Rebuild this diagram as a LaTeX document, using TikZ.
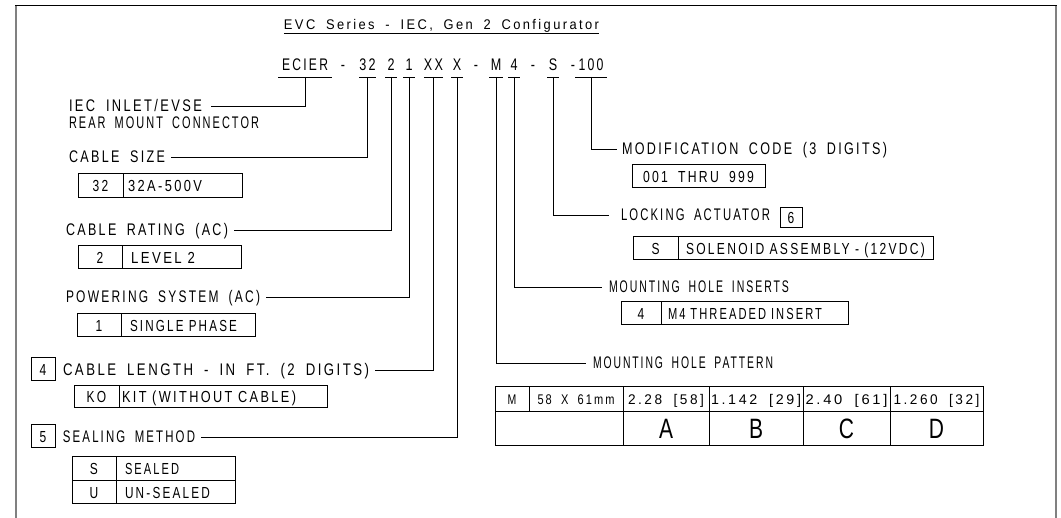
\documentclass[tikz,border=0pt]{standalone}
\usepackage{fontspec}
\usepackage{graphicx}
\newfontfamily\cadfont[FakeStretch=0.75,LetterSpace=14,WordSpace=1.8]{Liberation Sans}
\newcommand\fw[2]{\resizebox{#1}{\height}{#2}}
\begin{document}
\begin{tikzpicture}[x=1pt,y=-1pt,
 lab/.style={font=\cadfont\fontsize{16.8}{18}\selectfont, inner sep=0pt, outer sep=0pt, text height=12pt, text depth=0pt},
 lbl/.style={lab, anchor=west, outer xsep=6pt},
 lblr/.style={lab, anchor=west, outer xsep=#1},
 code/.style={lab, anchor=base, inner xsep=0pt, inner ysep=6pt},
 boxfont/.style={font=\cadfont\fontsize{16}{18}\selectfont, text height=11.5pt},
 cellc/.style={lab, boxfont, draw, line width=1pt, anchor=north west},
 celll/.style={lab, boxfont, draw, line width=1pt, anchor=north west, align=left},
 small/.style={font=\cadfont\fontsize{14}{16}\selectfont, text height=10pt},
 big/.style={font=\cadfont\fontsize{28}{30}\selectfont, text height=20pt},
 lead/.style={line width=0.9pt},
 frame/.style={line width=1.6pt, draw=black!50},
]
\useasboundingbox (0,0) rectangle (1061,518);
% frame
\draw[line width=1pt] (15,6) -- (1057,6);
\draw[frame] (16,6) -- (16,518);
\draw[frame] (1056,6) -- (1056,518);

% title
\node[font=\cadfont\fontsize{14}{16}\selectfont, inner xsep=0pt, inner ysep=3pt, outer sep=0pt, text height=10pt, text depth=0pt, anchor=base] (title) at (441.5,30) {\fw{315pt}{EVC Series - IEC, Gen 2 Configurator}};
\draw[lead] (title.south west) -- (title.south east);

% code line
\node[code, minimum width=54pt] (gE) at (305,71) {\fw{46pt}{ECIER}};
\node[lab, anchor=base] (d1) at (343,71) {-};
\node[code, minimum width=15pt] (g32) at (367.5,71) {32};
\node[code, minimum width=12pt] (g2) at (391,71) {2};
\node[code, minimum width=12pt] (g1) at (409,71) {1};
\node[code, minimum width=17pt] (gXX) at (433.5,71) {XX};
\node[code, minimum width=12pt] (gX) at (457,71) {X};
\node[lab, anchor=base] (d2) at (476,71) {-};
\node[code, minimum width=14pt] (gM) at (496,71) {M};
\node[code, minimum width=12pt] (g4) at (514,71) {4};
\node[lab, anchor=base] (d3) at (533,71) {-};
\node[code, minimum width=12pt] (gS) at (553,71) {S};
\node[lab, anchor=base] (d4) at (573,71) {-};
\node[code, minimum width=32pt] (g100) at (591,71) {\fw{25pt}{100}};
\foreach \n in {gE,g32,g2,g1,gXX,gX,gM,g4,gS,g100}
  \draw[lead] (\n.south west) -- (\n.south east);

% left labels
\node[lbl, outer xsep=9pt] (lIEC) at (60,106) {\fw{133pt}{IEC INLET/EVSE}};
\node[lbl] (lREAR) at (63,123) {\fw{190pt}{REAR MOUNT CONNECTOR}};
\node[lbl] (lSize) at (63,157) {\fw{96pt}{CABLE SIZE}};
\node[lbl] (lRate) at (60,230) {\fw{162pt}{CABLE RATING (AC)}};
\node[lbl] (lPow) at (60,297) {\fw{194pt}{POWERING SYSTEM (AC)}};
\node[lbl] (lLen) at (57,370) {\fw{306pt}{CABLE LENGTH - IN FT. (2 DIGITS)}};
\node[lbl] (lSeal) at (57,437) {\fw{132pt}{SEALING METHOD}};
\node[cellc, minimum width=24pt, minimum height=23pt] (n4) at (31,358) {4};
\node[cellc, minimum width=24pt, minimum height=23pt] (n5) at (31,425) {5};

% right labels
\node[lblr=5pt] (lMod) at (617,149) {\fw{265pt}{MODIFICATION CODE (3 DIGITS)}};
\node[lblr=12pt] (lLock) at (609,215) {\fw{149pt}{LOCKING ACTUATOR}};
\node[lblr=7pt] (lIns) at (602,287) {\fw{180pt}{MOUNTING HOLE INSERTS}};
\node[lblr=7pt] (lPat) at (586,363) {\fw{180pt}{MOUNTING HOLE PATTERN}};
\node[cellc, minimum width=22pt, minimum height=20pt] (n6) at (780,208) {6};

% leaders
\draw[lead] (gE.south) |- (lIEC.east);
\draw[lead] (g32.south) |- (lSize.east);
\draw[lead] (g2.south) |- (lRate.east);
\draw[lead] (g1.south) |- (lPow.east);
\draw[lead] (gXX.south) |- (lLen.east);
\draw[lead] (gX.south) |- (lSeal.east);
\draw[lead] (gM.south) |- (lPat.west);
\draw[lead] (g4.south) |- (lIns.west);
\draw[lead] (gS.south) |- (lLock.west);
\draw[lead] (g100.south) |- (lMod.west);

% left option boxes
\node[cellc, minimum width=45pt, minimum height=24pt] (b32a) at (78,174) {32};
\node[celll, inner xsep=5pt, text width=109pt, minimum height=24pt] (b32b) at (123,174) {\fw{74pt}{32A-500V}};
\node[cellc, minimum width=44pt, minimum height=23pt] (b2a) at (78,246) {2};
\node[celll, inner xsep=9pt, text width=101pt, minimum height=23pt] (b2b) at (122,246) {\fw{64pt}{LEVEL 2}};
\node[cellc, minimum width=44pt, minimum height=23pt] (b1a) at (77,314) {1};
\node[celll, inner xsep=9pt, text width=116pt, minimum height=23pt] (b1b) at (121,314) {\fw{107pt}{SINGLE PHASE}};
\node[cellc, minimum width=45pt, minimum height=22pt] (bKa) at (74,386) {KO};
\node[celll, inner xsep=3pt, text width=202pt, minimum height=22pt] (bKb) at (119,386) {\fw{174pt}{KIT (WITHOUT CABLE)}};
\node[cellc, minimum width=44pt, minimum height=24pt] (bSa) at (72,457) {S};
\node[celll, inner xsep=9pt, text width=101pt, minimum height=24pt] (bSb) at (116,457) {\fw{54pt}{SEALED}};
\node[cellc, minimum width=44pt, minimum height=23pt] (bUa) at (72,481) {U};
\node[celll, inner xsep=9pt, text width=101pt, minimum height=23pt] (bUb) at (116,481) {\fw{85pt}{UN-SEALED}};

% right option boxes
\node[cellc, minimum width=133pt, minimum height=23pt] (bMod) at (632,165) {\fw{111pt}{001 THRU 999}};
\node[cellc, minimum width=45pt, minimum height=23pt] (bSola) at (633,237) {S};
\node[celll, inner xsep=8pt, text width=239pt, minimum height=23pt] (bSolb) at (678,237) {\fw{239pt}{SOLENOID ASSEMBLY - (12VDC)}};
\node[cellc, minimum width=40pt, minimum height=23pt] (bInsa) at (621,302) {4};
\node[celll, inner xsep=7pt, text width=173pt, minimum height=23pt] (bInsb) at (661,302) {\fw{154pt}{M4 THREADED INSERT}};

% mounting hole pattern table
\node[cellc, small, minimum width=34pt, minimum height=25pt] (t11) at (495,387) {M};
\node[cellc, small, minimum width=94pt, minimum height=25pt] (t12) at (529,387) {\fw{77pt}{58 X 61mm}};
\node[cellc, small, minimum width=86pt, minimum height=25pt] (t13) at (623,387) {\fw{76pt}{2.28 [58]}};
\node[cellc, small, minimum width=94pt, minimum height=25pt] (t14) at (709,387) {\fw{90pt}{1.142 [29]}};
\node[cellc, small, minimum width=87pt, minimum height=25pt] (t15) at (803,387) {\fw{82pt}{2.40 [61]}};
\node[cellc, small, minimum width=93pt, minimum height=25pt] (t16) at (890,387) {\fw{86pt}{1.260 [32]}};
\node[cellc, minimum width=128pt, minimum height=34pt] (t21) at (495,412) {};
\node[cellc, big, minimum width=86pt, minimum height=34pt] (t23) at (623,412) {A};
\node[cellc, big, minimum width=94pt, minimum height=34pt] (t24) at (709,412) {B};
\node[cellc, big, minimum width=87pt, minimum height=34pt] (t25) at (803,412) {C};
\node[cellc, big, minimum width=93pt, minimum height=34pt] (t26) at (890,412) {D};
\end{tikzpicture}
\end{document}
